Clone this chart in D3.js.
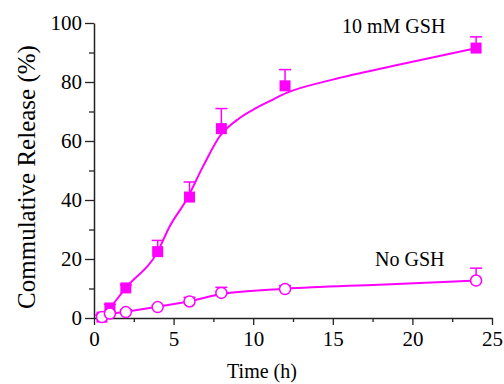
<!DOCTYPE html>
<html>
<head>
<meta charset="utf-8">
<script src="https://cdn.jsdelivr.net/npm/d3@7"></script>
<style>
  body { margin: 0; background: #fff; }
  text { font-family: "Liberation Serif", "Times New Roman", serif; }
</style>
</head>
<body>
<script>
// sampling times and measured release (%)
const times = [0.5, 1, 2, 4, 6, 8, 12, 24];
const gsh = [0.3, 3.4, 10.2, 22.5, 41, 64.2, 78.7, 91.5];
const gshErr = [0.5, 1.2, 1.0, 3.8, 5.1, 6.8, 5.5, 3.8];
const noGsh = [0.3, 1.5, 2.0, 3.7, 5.6, 8.5, 9.8, 12.7];
const noGshErr = [0.5, 0.8, 0.8, 0.6, 1.4, 1.9, 1.2, 4.2];

// fitted curves
const gshFitT = [0.1, 0.5, 1, 2, 4, 4.75, 5.8, 6.85, 7.9, 9.15, 10.2, 11, 12.1, 15, 19.2, 24];
const gshFitV = [1.2, 0.3, 3.4, 10.2, 22.5, 31, 40, 51.4, 61.6, 67.8, 71.2, 73.4, 76.3, 80.8, 85.9, 91.5];
const noFitT = [0.1, 0.5, 1, 2, 4, 5.4, 6, 8, 12, 17.9, 24];
const noFitV = [1.2, 0.3, 1.3, 2.1, 3.8, 5.1, 5.7, 8.1, 9.9, 11.3, 12.7];

const xTicks = [0, 5, 10, 15, 20, 25];
const yTicks = [0, 20, 40, 60, 80, 100];

let svgWidth = 504;
let svgHeight = 384;
let margin = { top: 23, right: 12, bottom: 66, left: 94 };
let chartWidth = svgWidth - margin.left - margin.right;
let chartHeight = svgHeight - margin.top - margin.bottom;
const magenta = "#ff00ff";
const serif = "'Liberation Serif', 'Times New Roman', serif";

let svg = d3.select("body").append("svg")
  .attr("width", svgWidth)
  .attr("height", svgHeight)
  .attr("font-family", serif);

let chartGroup = svg.append("g")
  .attr("transform", `translate(${margin.left}, ${margin.top})`);

let x = d3.scaleLinear().domain([0, 25]).range([0, chartWidth]);
let y = d3.scaleLinear().domain([0, 100]).range([chartHeight, 0]);

// minor ticks first
chartGroup.append("g")
  .attr("transform", `translate(0, ${chartHeight})`)
  .call(d3.axisBottom(x).tickValues(d3.range(2.5, 25, 5)).tickSize(4).tickFormat(""))
  .call(g => g.select(".domain").remove());
chartGroup.append("g")
  .call(d3.axisLeft(y).tickValues(d3.range(10, 100, 20)).tickSize(5).tickFormat(""))
  .call(g => g.select(".domain").remove());

let bottomAxis = chartGroup.append("g")
  .attr("transform", `translate(0, ${chartHeight})`)
  .call(d3.axisBottom(x).tickValues(xTicks).tickSize(7).tickSizeOuter(0).tickPadding(6))
  .attr("font-family", serif).attr("font-size", 21);
let leftAxis = chartGroup.append("g")
  .call(d3.axisLeft(y).tickValues(yTicks).tickSize(9).tickSizeOuter(0).tickPadding(3))
  .attr("font-family", serif).attr("font-size", 21);

chartGroup.selectAll(".tick line").attr("stroke", "#222").attr("stroke-width", 1.3);
chartGroup.selectAll(".domain").attr("stroke", "#222").attr("stroke-width", 1.5);
chartGroup.selectAll(".tick text").attr("fill", "#000");

// fit lines
let line = d3.line().x(d => x(d[0])).y(d => y(d[1])).curve(d3.curveMonotoneX);
chartGroup.append("path")
  .attr("d", line(d3.zip(gshFitT, gshFitV)))
  .attr("fill", "none").attr("stroke", magenta).attr("stroke-width", 2);
chartGroup.append("path")
  .attr("d", line(d3.zip(noFitT, noFitV)))
  .attr("fill", "none").attr("stroke", magenta).attr("stroke-width", 2);

// error bars (upper only)
function errorBars(vals, errs) {
  let g = chartGroup.append("g").attr("stroke", magenta).attr("stroke-width", 1.5);
  times.forEach((t, i) => {
    g.append("line")
      .attr("x1", x(t)).attr("x2", x(t))
      .attr("y1", y(vals[i])).attr("y2", y(vals[i] + errs[i]));
    g.append("line")
      .attr("x1", x(t) - 6).attr("x2", x(t) + 6)
      .attr("y1", y(vals[i] + errs[i])).attr("y2", y(vals[i] + errs[i]));
  });
}
errorBars(gsh, gshErr);
errorBars(noGsh, noGshErr);

// markers
chartGroup.selectAll(".sq")
  .data(d3.zip(times, gsh))
  .join("rect")
  .attr("x", d => x(d[0]) - 5.5)
  .attr("y", d => y(d[1]) - 5.5)
  .attr("width", 11).attr("height", 11)
  .attr("fill", magenta);

chartGroup.selectAll(".circ")
  .data(d3.zip(times, noGsh))
  .join("circle")
  .attr("cx", d => x(d[0]))
  .attr("cy", d => y(d[1]))
  .attr("r", 5.5)
  .attr("fill", "#fff")
  .attr("stroke", magenta)
  .attr("stroke-width", 1.5);

// series labels
svg.append("text").attr("x", 342).attr("y", 33)
  .style("font-size", "20px").text("10 mM GSH");
svg.append("text").attr("x", 375).attr("y", 266)
  .style("font-size", "20px").text("No GSH");

// axis titles
svg.append("text")
  .attr("x", 262).attr("y", 378)
  .attr("text-anchor", "middle")
  .style("font-size", "20px")
  .text("Time (h)");
svg.append("text")
  .attr("transform", "translate(35, 177) rotate(-90)")
  .attr("text-anchor", "middle")
  .style("font-size", "25px")
  .text("Commulative Release (%)");
</script>
</body>
</html>
